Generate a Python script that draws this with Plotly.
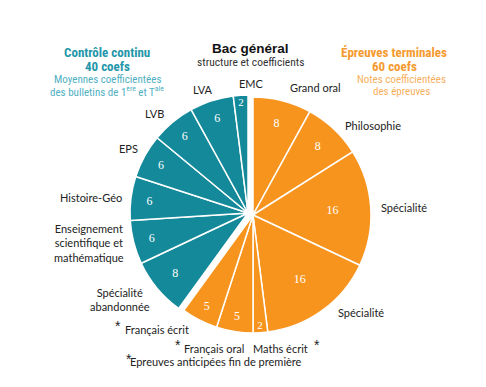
import plotly.graph_objects as go

# ---- data ----
orange_labels = ["Grand oral", "Philosophie", "Spécialité", "Spécialité", "Maths écrit", "Français oral", "Français écrit"]
orange_values = [8, 8, 16, 16, 2, 5, 5]
teal_labels = ["Spécialité abandonnée", "Enseignement scientifique et mathématique", "Histoire-Géo", "EPS", "LVB", "LVA", "EMC"]
teal_values = [8, 6, 6, 6, 6, 6, 2]

TEAL = "#13899a"
ORANGE = "#f7941d"
TRANSP = "rgba(0,0,0,0)"

W, H = 486, 387
OFF = 8  # compensate page body margin
cx, cy, r = 248 - OFF, 213 - OFF, 118
shift_x, shift_y = 5, 2


def dom(x0, y0):
    return dict(x=[(x0 - r) / W, (x0 + r) / W], y=[1 - (y0 + r) / H, 1 - (y0 - r) / H])

fig = go.Figure()

# orange group (pulled slightly); unique labels keep identical names as separate slices
o_vals = orange_values + [sum(teal_values)]
fig.add_trace(go.Pie(
    values=o_vals,
    labels=[f"o{i}" for i in range(len(o_vals))],
    text=[str(v) for v in orange_values] + [""],
    textinfo="text",
    textposition="inside",
    insidetextorientation="horizontal",
    textfont=dict(family="Liberation Serif", size=12, color="white"),
    marker=dict(colors=[ORANGE] * len(orange_values) + [TRANSP],
                line=dict(color="white", width=[1.5] * len(orange_values) + [0])),
    sort=False, direction="clockwise", rotation=0,
    domain=dom(cx + shift_x, cy + shift_y),
    hoverinfo="skip", showlegend=False,
))

# teal group
t_vals = [sum(orange_values)] + teal_values
fig.add_trace(go.Pie(
    values=t_vals,
    labels=[f"t{i}" for i in range(len(t_vals))],
    text=[""] + [str(v) for v in teal_values],
    textinfo="text",
    textposition="inside",
    insidetextorientation="horizontal",
    textfont=dict(family="Liberation Serif", size=12, color="white"),
    marker=dict(colors=[TRANSP] + [TEAL] * len(teal_values),
                line=dict(color="white", width=[0] + [1.5] * len(teal_values))),
    sort=False, direction="clockwise", rotation=0,
    domain=dom(cx, cy),
    hoverinfo="skip", showlegend=False,
))

LBL = dict(family="Lato, Open Sans, sans-serif", size=11, color="#222222")
NARROW = "Liberation Sans Narrow, Roboto Condensed, Arial Narrow, Liberation Sans, sans-serif"

ann = []

def add(text, x, y, font, align="center"):
    ann.append(dict(text=text, x=(x - OFF) / W, y=1 - (y - OFF) / H, xref="paper", yref="paper",
                    showarrow=False, font=font, align=align, xanchor="center", yanchor="middle"))

# outside slice labels
label_pos = [
    ("EMC", 251, 84), ("LVA", 203, 89), ("LVB", 154, 113), ("EPS", 128, 148),
    ("Histoire-Géo", 91, 197),
    ("Enseignement<br>scientifique et<br>mathématique", 89, 243),
    ("Spécialité<br>abandonnée", 120, 299),
    ("Grand oral", 315, 87), ("Philosophie", 373, 126),
    ("Spécialité", 404, 208), ("Spécialité", 361, 312),
    ("Français écrit", 157, 329), ("Français oral", 214, 348), ("Maths écrit", 280, 348),
    ("Epreuves anticipées fin de première", 216, 361),
]
for t, x, y in label_pos:
    add(t, x, y, LBL)

STAR = dict(family="Liberation Sans, sans-serif", size=14, color="#222222")
for x, y in [(118, 326), (178, 345), (317, 345), (129, 359)]:
    add("*", x, y, STAR)

# titles
add("<b>Bac général</b>", 250, 48, dict(family="Liberation Sans, Arial, sans-serif", size=13.5, color="#111111"))
add("structure et coefficients", 250, 62, dict(family=NARROW, size=11.5, color="#333333"))

add("<b>Contrôle continu</b>", 107, 53, dict(family=NARROW, size=13, color="#2396aa"))
add("<b>40 coefs</b>", 107, 66, dict(family=NARROW, size=13, color="#2396aa"))
add("Moyennes coefficientées", 107, 79, dict(family=NARROW, size=11, color="#4fb0c2"))
add("des bulletins de 1<sup>ère</sup> et T<sup>ale</sup>", 107, 92, dict(family=NARROW, size=11, color="#4fb0c2"))

add("<b>Épreuves terminales</b>", 394, 53, dict(family=NARROW, size=13, color="#f59a2e"))
add("<b>60 coefs</b>", 394, 66, dict(family=NARROW, size=13, color="#f59a2e"))
add("Notes coefficientées", 401, 79, dict(family=NARROW, size=11, color="#f7b060"))
add("des épreuves", 401, 92, dict(family=NARROW, size=11, color="#f7b060"))

fig.update_layout(
    width=W, height=H,
    margin=dict(l=0, r=0, t=0, b=0),
    paper_bgcolor="white", plot_bgcolor="white",
    annotations=ann,
)

fig.write_html("out.html")
